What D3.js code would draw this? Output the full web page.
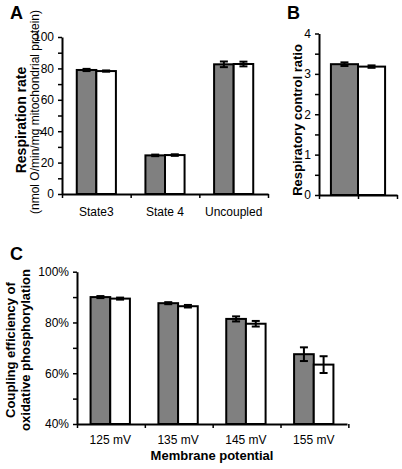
<!DOCTYPE html>
<html><head><meta charset="utf-8">
<script src="https://cdn.jsdelivr.net/npm/d3@7"></script>
<style>
html,body{margin:0;padding:0;background:#fff;}
svg{display:block;font-family:"Liberation Sans",Arial,sans-serif;}
</style></head>
<body><svg id="c" width="402" height="469"></svg>
<script>
const catsA = ["State3", "State 4", "Uncoupled"];
const grayA = [79.0, 24.6, 82.6];
const grayErrA = [0.7, 0.5, 1.8];
const whiteA = [78.3, 24.8, 82.8];
const whiteErrA = [0.4, 0.5, 1.5];
const ticksA = [0, 20, 40, 60, 80, 100];
const minorA = [10, 30, 50, 70, 90];

const catsB = [""];
const grayB = [3.24];
const grayErrB = [0.045];
const whiteB = [3.18];
const whiteErrB = [0.03];
const ticksB = [0, 1, 2, 3, 4];
const minorB = [0.5, 1.5, 2.5, 3.5];

const catsC = ["125 mV", "135 mV", "145 mV", "155 mV"];
const grayC = [90.0, 87.6, 81.4, 67.5];
const grayErrC = [0.4, 0.4, 1.0, 2.7];
const whiteC = [89.4, 86.4, 79.5, 63.4];
const whiteErrC = [0.4, 0.5, 1.1, 3.3];
const ticksC = [40, 60, 80, 100];
const minorC = [50, 70, 90];

const svg = d3.select("#c");
const GRAY = "#808080";

function vtext(t, x, y, size, bold) {
  svg.append("text").attr("transform", `translate(${x},${y}) rotate(-90)`).attr("text-anchor", "middle")
    .attr("font-size", size).attr("font-weight", bold ? "bold" : "normal").attr("fill", "#000").text(t);
}
vtext("Respiration rate", 26, 120, 14, true);
vtext("(nmol O/min/mg mitochondrial protein)", 39, 112, 12, false);
vtext("Respiratory control ratio", 302, 120, 13, true);
vtext("Coupling efficiency of", 15, 350, 13, true);
vtext("oxidative phosphorylation", 30, 350, 13, true);
svg.append("text").attr("x", 212).attr("y", 460).attr("text-anchor", "middle").attr("font-size", 13)
  .attr("font-weight", "bold").attr("fill", "#000").text("Membrane potential");

function panel(o) {
  const g = svg.append("g");
  const y = d3.scaleLinear().domain(o.ydom).range([o.y0, o.y1]);
  const x = d3.scaleBand().domain(o.cats).range([o.x0, o.x1]).paddingInner(o.pin).paddingOuter(o.pout);
  const step = x.step();
  const sub = d3.scaleBand().domain(["g", "w"]).range([0, x.bandwidth()]);

  o.cats.forEach((c, i) => {
    [["g", o.gray[i], o.gerr[i], GRAY], ["w", o.white[i], o.werr[i], "#fff"]].forEach(([k, v, e, fill]) => {
      const bx = x(c) + sub(k);
      g.append("rect").attr("x", bx).attr("y", y(v)).attr("width", sub.bandwidth())
        .attr("height", y(o.ydom[0]) - y(v)).attr("fill", fill).attr("stroke", "#000").attr("stroke-width", 2);
      const cx = bx + sub.bandwidth() / 2;
      g.append("line").attr("x1", cx).attr("x2", cx).attr("y1", y(v - e)).attr("y2", y(v + e)).attr("stroke", "#000").attr("stroke-width", 2);
      [v - e, v + e].forEach(t => g.append("line").attr("x1", cx - 4).attr("x2", cx + 4).attr("y1", y(t)).attr("y2", y(t)).attr("stroke", "#000").attr("stroke-width", 2));
    });
  });

  const ya = d3.axisLeft(y).tickValues(o.ticks.concat(o.minor)).tickSize(4).tickSizeOuter(0).tickFormat("");
  const yg = g.append("g").attr("transform", `translate(${o.x0},0)`).call(ya);
  yg.select(".domain").attr("stroke-width", 2);
  yg.selectAll(".tick line").attr("stroke-width", 1.5);
  const yl = d3.axisLeft(y).tickValues(o.ticks).tickSize(0).tickPadding(8).tickFormat(o.fmt);
  const ylg = g.append("g").attr("transform", `translate(${o.x0},0)`).call(yl);
  ylg.select(".domain").remove();
  ylg.selectAll("text").attr("font-size", 12).attr("fill", "#000");

  const bounds = d3.range(o.cats.length + 1).map(i => o.x0 + i * step);
  const xl = d3.scaleLinear().domain([o.x0, o.x1]).range([o.x0, o.x1]);
  const boundTicks = o.midTick ? [o.x0, (o.x0 + o.x1) / 2, o.x1] : bounds;
  const xa = d3.axisBottom(xl).tickValues(boundTicks).tickSize(4).tickSizeOuter(0).tickFormat("");
  const xg = g.append("g").attr("transform", `translate(0,${o.y0})`).call(xa);
  xg.select(".domain").attr("stroke-width", 2);
  xg.selectAll(".tick line").attr("stroke-width", 1.5);
  const xlab = d3.axisBottom(x).tickSize(0).tickPadding(o.labPad);
  const lg = g.append("g").attr("transform", `translate(0,${o.y0})`).call(xlab);
  lg.select(".domain").remove();
  lg.selectAll("text").attr("font-size", 12).attr("fill", "#000");
  return g;
}

panel({cats: catsA, gray: grayA, gerr: grayErrA, white: whiteA, werr: whiteErrA,
  ydom: [0, 100], y0: 194, y1: 37, x0: 62, x1: 268, pin: 0.43, pout: 0.215,
  ticks: ticksA, minor: minorA, fmt: d => d, labPad: 13});
panel({cats: catsB, gray: grayB, gerr: grayErrB, white: whiteB, werr: whiteErrB,
  ydom: [0, 4], y0: 195, y1: 33.5, x0: 319, x1: 397, pin: 0, pout: 0.22, midTick: true,
  ticks: ticksB, minor: minorB, fmt: d => d, labPad: 13});
panel({cats: catsC, gray: grayC, gerr: grayErrC, white: whiteC, werr: whiteErrC,
  ydom: [40, 100], y0: 424, y1: 271.7, x0: 77, x1: 347, pin: 0.42, pout: 0.2,
  ticks: ticksC, minor: minorC, fmt: d => d + "%", labPad: 11});

[["A", 10, 19], ["B", 287, 19], ["C", 10, 260]].forEach(([t, x, y]) =>
  svg.append("text").attr("x", x).attr("y", y).attr("font-size", 18).attr("font-weight", "bold").text(t));
</script></body></html>
